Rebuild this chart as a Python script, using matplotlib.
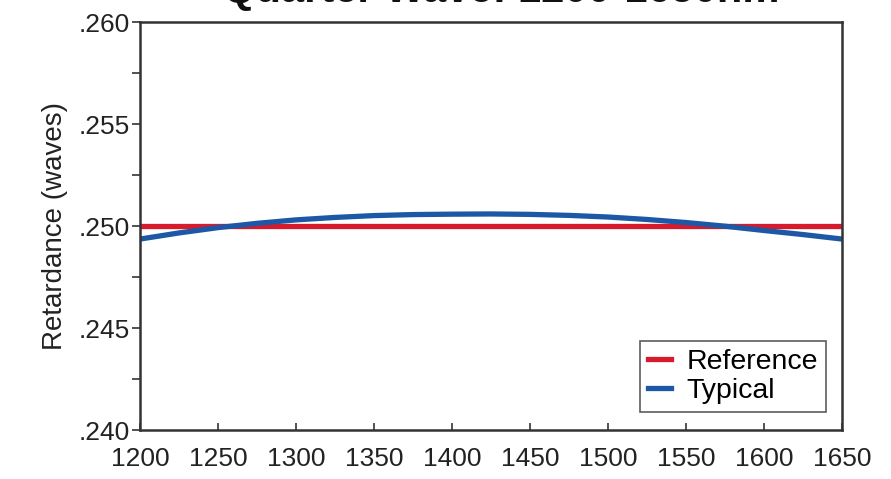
import matplotlib
matplotlib.use("Agg")
import matplotlib.pyplot as plt
from matplotlib.ticker import FuncFormatter, MultipleLocator

wavelength = [1200, 1225, 1250, 1275, 1300, 1325, 1350, 1375, 1400, 1425, 1450, 1475,
              1500, 1525, 1550, 1575, 1600, 1625, 1650]
reference = [0.2500] * 19
typical = [0.24936, 0.24966, 0.24992, 0.25013, 0.25030, 0.25042, 0.25051, 0.25056, 0.25058,
           0.25059, 0.25057, 0.25052, 0.25044, 0.25032, 0.25017, 0.24999, 0.24978, 0.24958, 0.24936]

plt.rcParams['font.family'] = ['Liberation Sans', 'DejaVu Sans']
fs = 19

fig = plt.figure(figsize=(8.91, 4.79), dpi=100)
ax = fig.add_axes([140/891, 1-430/479, 702/891, 408/479])

ax.plot(wavelength, reference, color='#d71a2c', lw=3.8, label='Reference')
ax.plot(wavelength, typical, color='#1d58a6', lw=3.8, label='Typical')

ax.set_xlim(1200, 1650)
ax.set_ylim(0.240, 0.260)
ax.xaxis.set_major_locator(MultipleLocator(50))
ax.yaxis.set_major_locator(MultipleLocator(0.005))
ax.yaxis.set_minor_locator(MultipleLocator(0.0025))
ax.yaxis.set_major_formatter(FuncFormatter(lambda v, p: ('%.3f' % v)[1:]))

for s in ax.spines.values():
    s.set_color('#333333')
    s.set_linewidth(1.8)

ax.tick_params(axis='x', direction='in', length=5, width=1.2, colors='#333333',
               labelcolor='#222222', labelsize=fs, pad=12)
ax.tick_params(axis='y', which='both', direction='out', length=6, width=1.2, colors='#333333',
               labelcolor='#222222', labelsize=fs, pad=1)

ax.set_ylabel('Retardance (waves)', fontsize=20, color='#222222', labelpad=8)

leg = ax.legend(loc='lower right', fontsize=20.5, frameon=True, fancybox=False,
                edgecolor='#333333', handlelength=0.8, handletextpad=0.55,
                borderpad=0.28, labelspacing=0.1, bbox_to_anchor=(0.997, 0.010))
leg.get_frame().set_linewidth(1.2)

fig.text(0.563, 1 - 2/479, 'Quarter Wave: 1200-1650nm', ha='center', va='baseline',
         fontsize=30, fontweight='bold', color='#111111')

fig.savefig('out.png', dpi=100)
